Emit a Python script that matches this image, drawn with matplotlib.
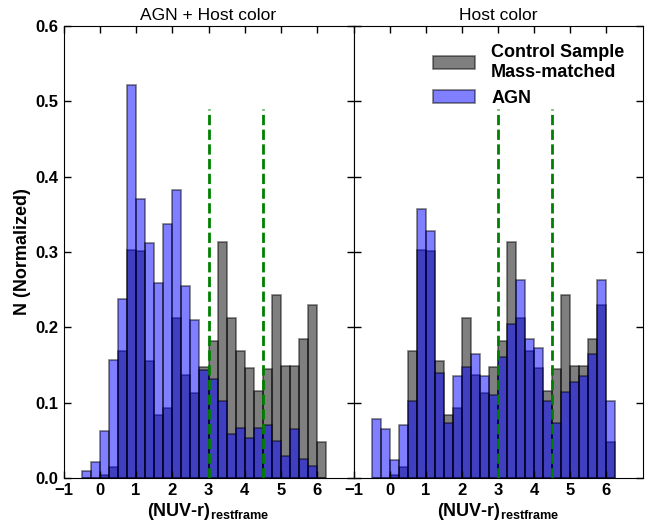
import numpy as np
import matplotlib
matplotlib.use('Agg')
import matplotlib.pyplot as plt
from matplotlib.patches import Patch

plt.rcParams['font.family'] = ['Liberation Sans', 'DejaVu Sans']
plt.rcParams['mathtext.fontset'] = 'custom'
plt.rcParams['mathtext.rm'] = 'Liberation Sans'
plt.rcParams['mathtext.bf'] = 'Liberation Sans:bold'

#----------------------------------------------------------------------
# DATA (normalized histograms, bin width 0.25 from -0.5 to 6.25)
bin_edges = np.arange(-0.5, 6.26, 0.25)

control = [0.0, 0.0, 0.004, 0.015, 0.168, 0.303, 0.301, 0.155, 0.084, 0.093,
           0.213, 0.137, 0.113, 0.148, 0.182, 0.313, 0.213, 0.168, 0.146,
           0.115, 0.145, 0.243, 0.149, 0.149, 0.184, 0.229, 0.048]

agn_total = [0.009, 0.021, 0.062, 0.157, 0.238, 0.522, 0.370, 0.3125, 0.259,
             0.337, 0.382, 0.255, 0.210, 0.143, 0.132, 0.102, 0.058, 0.066,
             0.053, 0.066, 0.071, 0.049, 0.029, 0.065, 0.025, 0.016, 0.0]

agn_host = [0.078, 0.065, 0.024, 0.070, 0.102, 0.357, 0.328, 0.139, 0.073,
            0.135, 0.147, 0.164, 0.135, 0.110, 0.160, 0.205, 0.263, 0.184,
            0.172, 0.102, 0.073, 0.114, 0.127, 0.135, 0.164, 0.263, 0.102]

titles = ['AGN + Host color', 'Host color']
cut_lines = [3.0, 4.5]

#----------------------------------------------------------------------
# FIGURE
fig = plt.figure(figsize=(6.52, 5.22), dpi=100)
ax1 = fig.add_axes([63.5/652, 1-478/522, 290/652, 452/522])
ax2 = fig.add_axes([353.5/652, 1-478/522, 289/652, 452/522], sharey=ax1)

lefts = bin_edges[:-1]
width = bin_edges[1] - bin_edges[0]

for ax, agn, title in zip([ax1, ax2], [agn_total, agn_host], titles):
    ax.bar(lefts, control, width=width, align='edge', color='black',
           alpha=0.5, edgecolor='black', linewidth=1.2)
    ax.bar(lefts, agn, width=width, align='edge', color='blue',
           alpha=0.5, edgecolor='black', linewidth=1.2)
    for xc in cut_lines:
        ax.vlines(xc, 0, 0.49, colors='green', linestyles='--', linewidth=2)
    ax.set_xlim(-1, 7)
    ax.set_ylim(0, 0.6)
    ax.set_xticks(np.arange(-1, 7))
    ax.set_xticklabels(['\u22121'] + [str(v) for v in range(0, 7)])
    ax.set_title(title, fontsize=12.5, pad=4)
    ax.set_xlabel('(NUV-r)$_{\\mathbf{restframe}}$', fontsize=13,
                  fontweight='bold', labelpad=2)
    ax.tick_params(direction='in', top=True, right=True, length=5,
                   labelsize=12, width=1)
    for lab in ax.get_xticklabels() + ax.get_yticklabels():
        lab.set_fontweight('bold')

ax1.set_yticks(np.arange(0, 0.61, 0.1))
ax1.set_yticklabels(['%.1f' % v for v in np.arange(0, 0.61, 0.1)])
for lab in ax1.get_yticklabels():
    lab.set_fontweight('bold')
ax1.set_ylabel('N (Normalized)', fontsize=13, fontweight='bold', labelpad=3)
plt.setp(ax2.get_yticklabels(), visible=False)

handles = [Patch(facecolor='black', alpha=0.5, edgecolor='black', linewidth=1.2),
           Patch(facecolor='blue', alpha=0.5, edgecolor='black', linewidth=1.2)]
ax2.legend(handles, ['Control Sample\nMass-matched', 'AGN'], loc='upper right',
           frameon=False, prop={'weight': 'bold', 'size': 13},
           handlelength=2.3, handleheight=0.8, handletextpad=0.9,
           borderaxespad=0.6, bbox_to_anchor=(1.0, 1.0))

fig.savefig('out.png', dpi=100)
